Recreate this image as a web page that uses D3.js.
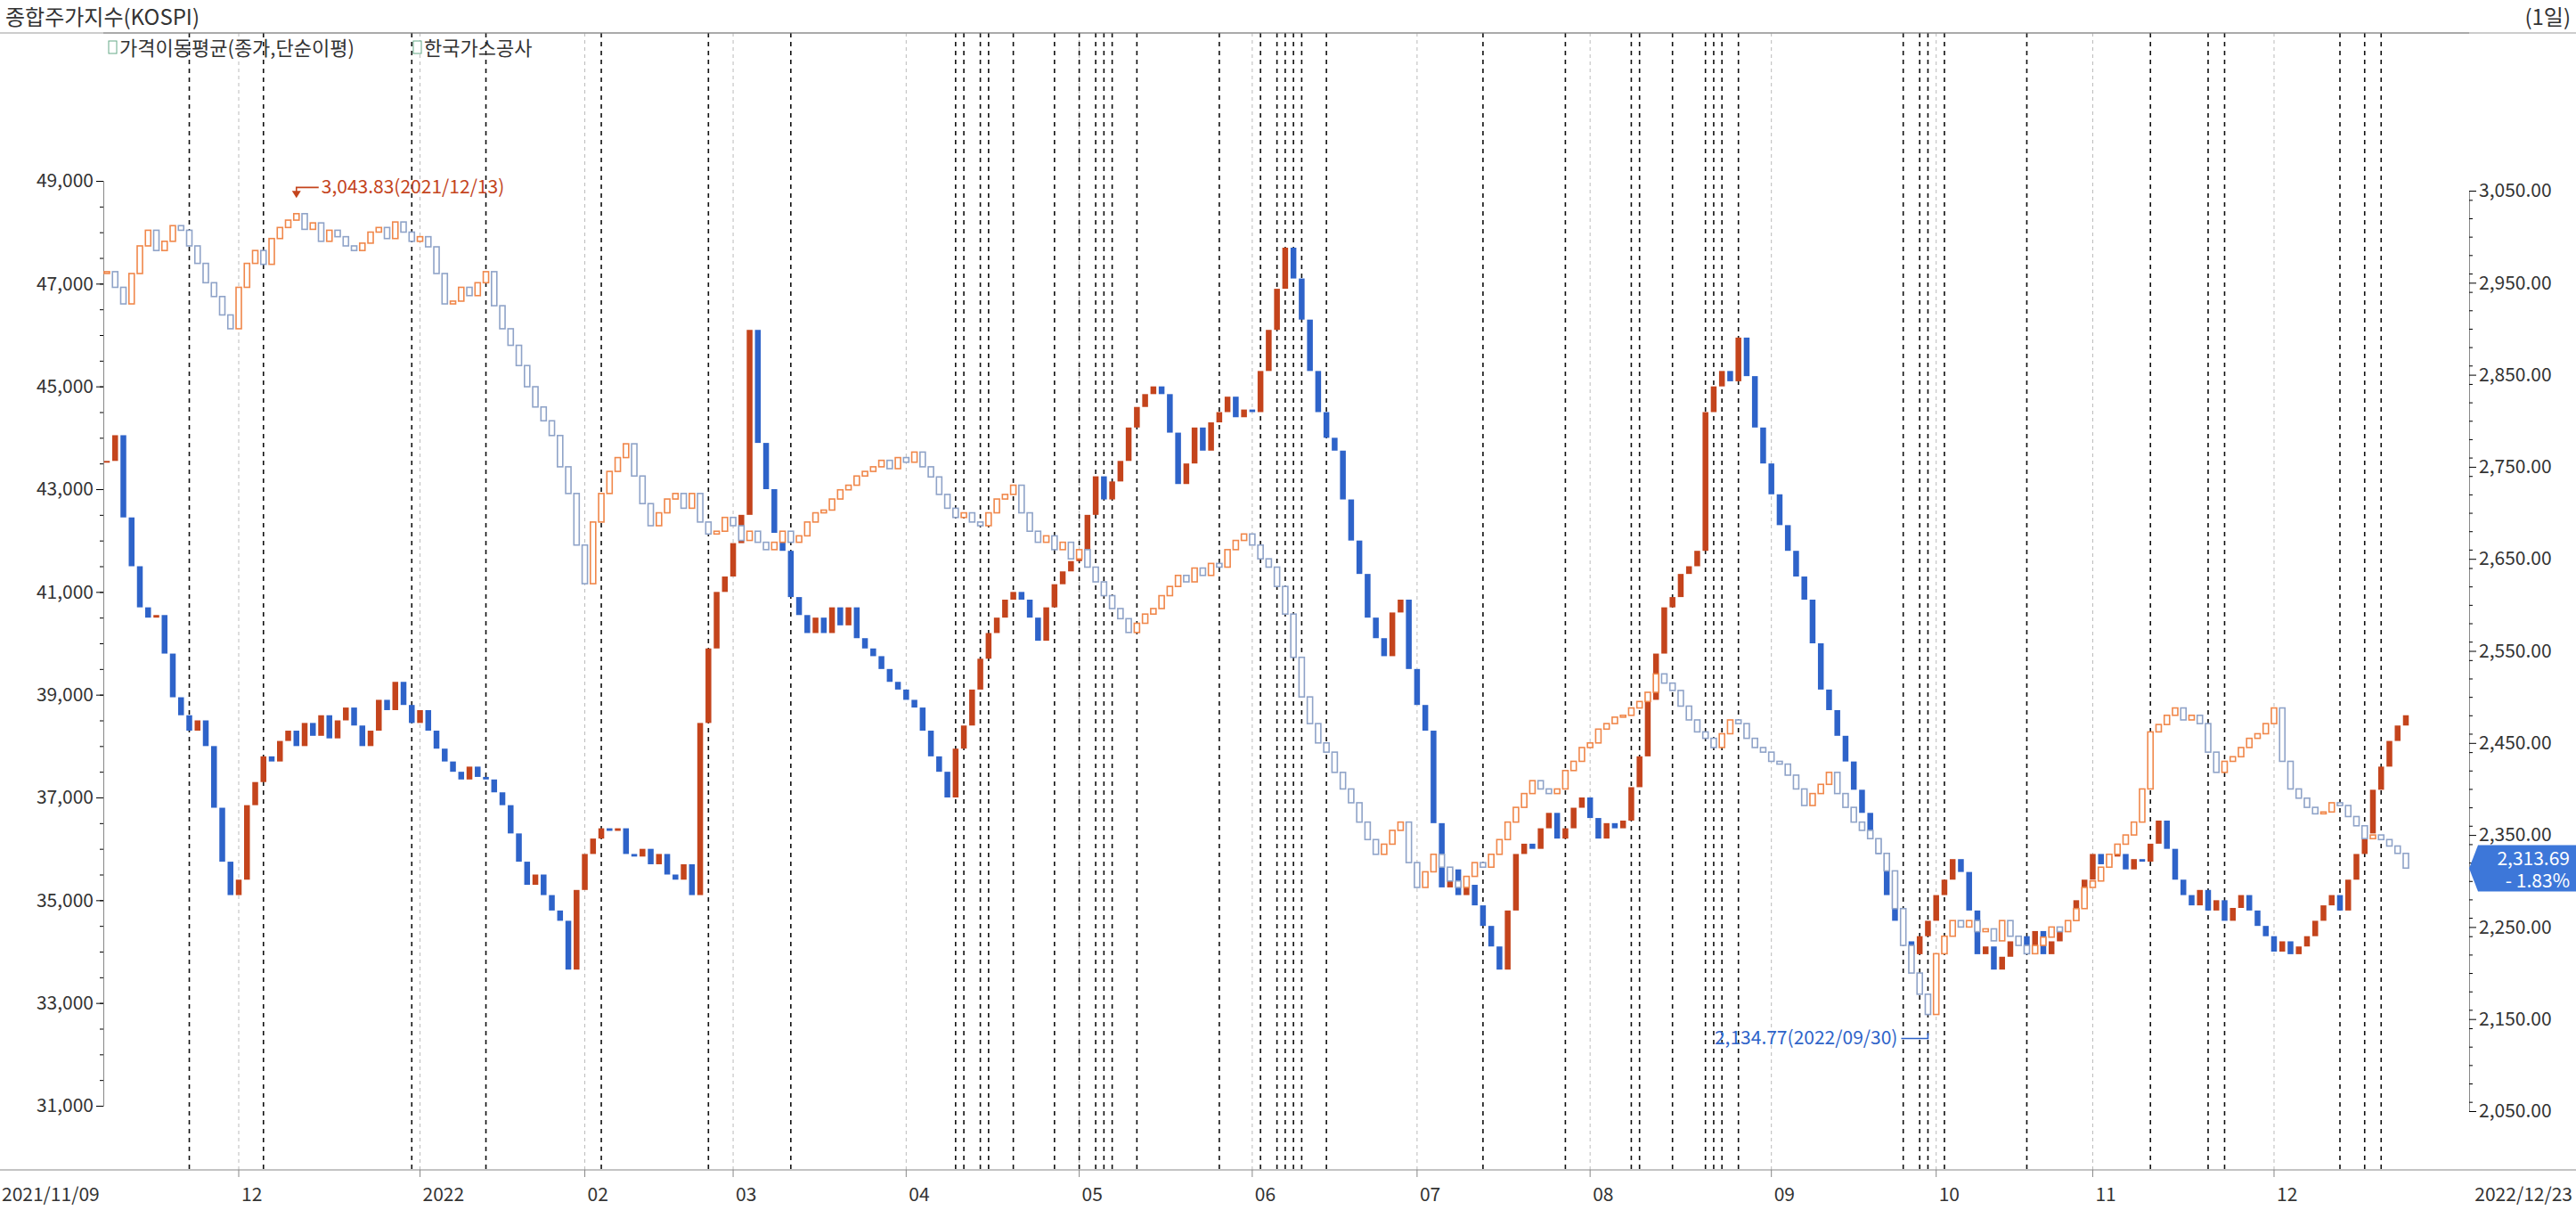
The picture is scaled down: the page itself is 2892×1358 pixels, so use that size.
<!DOCTYPE html><html><head><meta charset="utf-8"><script src="https://d3js.org/d3.v7.min.js"></script>
<style>body{margin:0;background:#fff}svg{display:block}</style></head><body><svg id="c" width="2892" height="1358"></svg>
<script>
const holidays=["2021-12-31","2022-01-31","2022-02-01","2022-02-02","2022-03-01","2022-03-09","2022-05-05","2022-06-01","2022-06-06","2022-08-15","2022-09-09","2022-09-12","2022-10-03","2022-10-10"];
const kospiClose=[2962,2945,2927,2960,2990,3007,2985,2995,3012,3007,2990,2971,2950,2935,2915,2900,2945,2971,2985,2970,2998,3010,3018,3025,3008,3015,2995,3007,3000,2990,2985,2993,3005,3010,2998,3016,3005,2995,3000,2989,2960,2927,2930,2945,2936,2950,2962,2925,2900,2882,2860,2837,2815,2800,2784,2750,2721,2665,2623,2690,2721,2745,2760,2775,2740,2710,2686,2700,2715,2721,2705,2721,2690,2677,2680,2695,2686,2670,2680,2668,2660,2668,2680,2668,2675,2690,2700,2703,2715,2725,2730,2740,2745,2750,2757,2748,2760,2755,2766,2750,2739,2720,2705,2695,2700,2690,2686,2700,2715,2720,2730,2700,2680,2668,2675,2660,2668,2650,2660,2641,2625,2610,2596,2585,2570,2580,2590,2596,2610,2620,2632,2625,2640,2632,2645,2641,2660,2670,2677,2665,2650,2641,2620,2590,2543,2500,2471,2450,2440,2418,2400,2385,2364,2345,2329,2340,2355,2364,2320,2293,2310,2329,2315,2300,2293,2305,2320,2315,2329,2345,2364,2380,2395,2409,2400,2395,2400,2420,2430,2445,2450,2465,2471,2478,2480,2488,2495,2505,2525,2515,2507,2490,2475,2462,2455,2445,2460,2475,2471,2455,2445,2440,2430,2427,2415,2400,2382,2395,2405,2418,2395,2380,2364,2355,2346,2330,2311,2270,2230,2200,2177,2155,2221,2240,2257,2250,2257,2245,2248,2235,2257,2240,2230,2221,2230,2239,2250,2245,2257,2270,2293,2300,2315,2329,2340,2350,2364,2400,2462,2470,2480,2488,2475,2480,2471,2440,2418,2430,2435,2445,2455,2460,2471,2488,2430,2400,2390,2380,2373,2375,2385,2382,2370,2360,2346,2350,2345,2338,2330,2314];
const gasClose=[43550,44050,42450,41500,40700,40500,40550,39800,38950,38600,38300,38500,38000,36800,35750,35100,35400,36850,37300,37800,37700,38100,38300,38000,38450,38200,38600,38150,38500,38750,38400,38000,38300,38900,38700,39250,38800,38450,38700,38300,37950,37700,37500,37350,37600,37400,37350,37100,36850,36300,35750,35300,35500,35100,34800,34600,33650,35200,35900,36200,36400,36350,36400,35900,35850,36000,35700,35900,35500,35400,35700,35100,38450,39900,41000,41300,41950,42500,46100,43900,43000,42150,41800,40900,40550,40200,40500,40200,40700,40350,40700,40100,39900,39750,39500,39250,39100,38900,38750,38300,37800,37500,37000,37950,38400,39100,39700,40200,40500,40850,41000,40850,40500,40050,40700,41150,41400,41600,41800,42500,43250,42800,43150,43550,44200,44600,44850,45000,44850,44100,43100,43500,44200,43750,44300,44500,44800,44400,44550,44500,45300,46100,46900,47700,47100,46300,45300,44500,44000,43750,42800,42000,41350,40500,40100,39750,40600,40850,39500,38800,38300,36500,35250,35600,35100,35300,34900,34500,34100,33650,34800,35900,36100,36000,36400,36700,36200,36400,36800,37000,36600,36200,36500,36400,36550,37200,37800,38900,39800,40700,40900,41350,41500,41800,44500,45000,45300,45100,45950,45200,44200,43500,42900,42300,41800,41300,40850,40000,39100,38700,38200,37700,37150,36700,36200,35900,35100,34600,34200,33950,34300,34600,35100,35400,35800,35550,34800,33950,34100,33650,33900,34200,34300,34100,34400,33950,34200,34400,34600,35000,35400,35900,35700,35850,35900,35600,35800,35750,36100,36550,36000,35400,35100,34900,35200,34800,35000,34600,34850,35100,34800,34500,34300,34000,34200,33950,34100,34300,34600,34900,35100,34800,35400,35900,36300,37150,37600,38100,38400,38600];
const eventIdx=[10,19,37,46,60,73,83,103,104,106,107,110,115,118,120,121,122,125,135,140,142,143,144,145,148,167,177,185,186,190,194,195,196,198,218,220,221,223,233,248,255,257,271,274,276];
const leftTicks=[31000,33000,35000,37000,39000,41000,43000,45000,47000,49000];
const rightTicks=[2050,2150,2250,2350,2450,2550,2650,2750,2850,2950,3050];
const monthLabels=["12","2022","02","03","04","05","06","07","08","09","10","11","12"];

// trading days
const days=[];const hs=new Set(holidays);
for(let d=new Date(Date.UTC(2021,10,9));d<=new Date(Date.UTC(2022,11,23));d=new Date(d.getTime()+864e5)){
 const w=d.getUTCDay(),s=d.toISOString().slice(0,10);if(w>0&&w<6&&!hs.has(s))days.push(s);}
const svg=d3.select("#c");
const L=116,R=2772,T=37,B=1313;
const x=d3.scaleLinear().domain([0,279]).range([120,2701]);
const yL=d3.scaleLinear().domain([31000,49000]).range([1241,203]);
const yR=d3.scaleLinear().domain([2050,3050]).range([1247,214]);
const font="'Noto Sans CJK KR','DejaVu Sans',sans-serif";
// frame
svg.append("rect").attr("x",0).attr("y",0).attr("width",2892).attr("height",37).attr("fill","#fff");
svg.append("line").attr("x1",0).attr("x2",2892).attr("y1",37).attr("y2",37).attr("stroke","#999");
svg.append("text").attr("x",6).attr("y",28).text("종합주가지수(KOSPI)").attr("font-family",font).attr("font-size",24).attr("fill","#333");
svg.append("text").attr("x",2886).attr("y",28).attr("text-anchor","end").text("(1일)").attr("font-family",font).attr("font-size",24).attr("fill","#333");
// month grid
const monthStart=[];days.forEach((d,i)=>{if(i>0&&d.slice(5,7)!==days[i-1].slice(5,7))monthStart.push(i);});
monthStart.forEach(i=>svg.append("line").attr("x1",x(i)).attr("x2",x(i)).attr("y1",T).attr("y2",B).attr("stroke","#bbb").attr("stroke-dasharray","4,4"));
eventIdx.forEach(i=>svg.append("line").attr("x1",x(i)).attr("x2",x(i)).attr("y1",T).attr("y2",B).attr("stroke","#111").attr("stroke-width",1.6).attr("stroke-dasharray","5,5"));
// axes
svg.append("g").attr("transform",`translate(${L},0)`).call(d3.axisLeft(yL).tickValues(leftTicks).tickFormat(d3.format(",")).tickSize(8))
 .call(g=>{g.selectAll("text").attr("font-size",21).attr("font-family",font).attr("fill","#333");g.select(".domain").attr("stroke","#888");});
svg.append("g").attr("transform",`translate(${L},0)`).call(d3.axisLeft(yL).ticks(45).tickFormat("").tickSize(4)).select(".domain").remove();
svg.append("g").attr("transform",`translate(${R},0)`).call(d3.axisRight(yR).tickValues(rightTicks).tickFormat(d3.format(",.2f")).tickSize(8))
 .call(g=>{g.selectAll("text").attr("font-size",21).attr("font-family",font).attr("fill","#333");g.select(".domain").attr("stroke","#888");});
svg.append("g").attr("transform",`translate(${R},0)`).call(d3.axisRight(yR).ticks(50).tickFormat("").tickSize(4)).select(".domain").remove();
svg.append("line").attr("x1",0).attr("x2",2892).attr("y1",B).attr("y2",B).attr("stroke","#888");
svg.append("line").attr("x1",L).attr("x2",R).attr("y1",T).attr("y2",T).attr("stroke","#888");
monthStart.forEach((i,k)=>{
 svg.append("line").attr("x1",x(i)).attr("x2",x(i)).attr("y1",B).attr("y2",B+8).attr("stroke","#888");
 svg.append("text").attr("x",x(i)+3).attr("y",B+35).text(monthLabels[k]).attr("font-family",font).attr("font-size",21).attr("fill","#333");});
svg.append("text").attr("x",2).attr("y",B+35).text("2021/11/09").attr("font-family",font).attr("font-size",21).attr("fill","#333");
svg.append("text").attr("x",2888).attr("y",B+35).attr("text-anchor","end").text("2022/12/23").attr("font-family",font).attr("font-size",21).attr("fill","#333");
// legend
const lg=svg.append("g").attr("font-family",font).attr("font-size",22).attr("fill","#333");
lg.append("rect").attr("x",122).attr("y",46).attr("width",9).attr("height",14).attr("fill","#fff").attr("stroke","#6a8");
lg.append("text").attr("x",134).attr("y",62).text("가격이동평균(종가,단순이평)");
lg.append("rect").attr("x",464).attr("y",46).attr("width",9).attr("height",14).attr("fill","#fff").attr("stroke","#6a8");
lg.append("text").attr("x",476).attr("y",62).text("한국가스공사");
// candles
const bw=6.5;
const gas=svg.append("g"),kos=svg.append("g");
gasClose.forEach((c,i)=>{const o=i?gasClose[i-1]:c;const up=c>=o;
 const y1=yL(Math.max(o,c)),y2=yL(Math.min(o,c));
 gas.append("rect").attr("x",x(i)-bw/2).attr("y",y1).attr("width",bw).attr("height",Math.max(2,y2-y1)).attr("fill",up?"#c4441c":"#2e63c9");});
kospiClose.forEach((c,i)=>{const o=i?kospiClose[i-1]:c;const up=c>=o;
 const y1=yR(Math.max(o,c)),y2=yR(Math.min(o,c));
 kos.append("rect").attr("x",x(i)-3).attr("y",y1).attr("width",6).attr("height",Math.max(2,y2-y1)).attr("fill","#fff").attr("stroke",up?"#f0874a":"#8fa3c8").attr("stroke-width",1.6);});
// annotations
const ai=23;
svg.append("path").attr("d",`M${x(ai)},${yR(3043.83)} v-10 h25`).attr("stroke","#c4441c").attr("fill","none").attr("stroke-width",1.6);
svg.append("path").attr("d",`M${x(ai)-5},${yR(3043.83)-6} l5,8 l5,-8z`).attr("fill","#c4441c");
svg.append("text").attr("x",x(ai)+28).attr("y",yR(3043.83)-3).text("3,043.83(2021/12/13)").attr("font-family",font).attr("font-size",21).attr("fill","#c4441c");
const bi=221;
svg.append("path").attr("d",`M${x(bi)},${yR(2134.77)} v6 h-30`).attr("stroke","#2e63c9").attr("fill","none").attr("stroke-width",1.6);
svg.append("text").attr("x",x(bi)-34).attr("y",yR(2134.77)+13).attr("text-anchor","end").text("2,134.77(2022/09/30)").attr("font-family",font).attr("font-size",21).attr("fill","#2e63c9");
// last price box
const ly=yR(2313.69);
svg.append("path").attr("d",`M${R} ${ly} l10 -26 h110 v52 h-110z`).attr("fill","#3d77d9");
svg.append("text").attr("x",2885).attr("y",ly-4).attr("text-anchor","end").text("2,313.69").attr("font-family",font).attr("font-size",21).attr("fill","#fff");
svg.append("text").attr("x",2885).attr("y",ly+21).attr("text-anchor","end").text("- 1.83%").attr("font-family",font).attr("font-size",21).attr("fill","#fff");
</script></body></html>
